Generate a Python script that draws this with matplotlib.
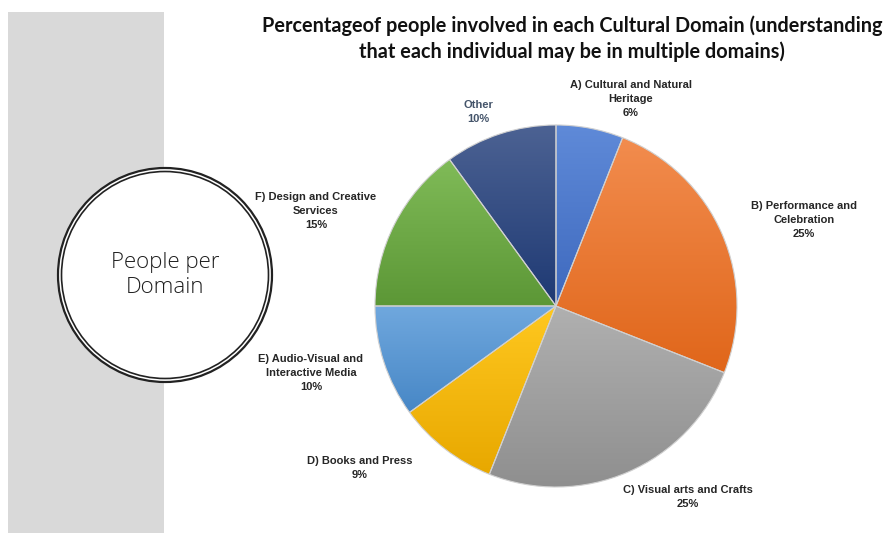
import matplotlib
matplotlib.use("Agg")
import matplotlib.pyplot as plt
import numpy as np
from matplotlib.patches import Rectangle, Circle
from matplotlib.colors import to_rgb

# ---- data ----
categories = ["A) Cultural and Natural\nHeritage", "B) Performance and\nCelebration",
              "C) Visual arts and Crafts", "D) Books and Press",
              "E) Audio-Visual and\nInteractive Media", "F) Design and Creative\nServices",
              "Other"]
values = [6, 25, 25, 9, 10, 15, 10]
pct_labels = ["6%", "25%", "25%", "9%", "10%", "15%", "10%"]
top_colors = ["#5F8AD8", "#F28C4E", "#B0B0B0", "#FFC820", "#70A8DE", "#80BB58", "#4C6293"]
bot_colors = ["#3E69BE", "#E0661A", "#8E8E8E", "#E8A800", "#4787C6", "#5C9736", "#1E3973"]
title = "Percentageof people involved in each Cultural Domain (understanding\nthat each individual may be in multiple domains)"

W, H = 885, 533
fig = plt.figure(figsize=(W / 100, H / 100), dpi=100)
ax = fig.add_axes([0, 0, 1, 1])
ax.set_xlim(0, W)
ax.set_ylim(0, H)
ax.axis("off")

def Y(y):
    return H - y

# grey band
ax.add_patch(Rectangle((8, 0), 156, Y(12), facecolor="#D9D9D9", edgecolor="none", zorder=1))
# double circle
cx, cy = 165, Y(275)
ax.add_patch(Circle((cx, cy), 107, facecolor="white", edgecolor="#222222", lw=1.6, zorder=2))
ax.add_patch(Circle((cx, cy), 103.5, facecolor="white", edgecolor="#222222", lw=1.2, zorder=2))
ax.text(cx, Y(275), "People per\nDomain", ha="center", va="center", fontsize=16,
        family="Open Sans", fontweight="light", color="#1E1E1E", linespacing=1.2, zorder=3)

# pie
pc = (556, Y(306))
R = 181
wedges, _ = ax.pie(values, startangle=90, counterclock=False, center=pc, radius=R,
                   wedgeprops=dict(edgecolor="#D0D0D0", linewidth=0.8, zorder=4))
for w, c1, c2 in zip(wedges, top_colors, bot_colors):
    verts = w.get_patch_transform().transform(w.get_path().vertices)
    x0, x1 = verts[:, 0].min(), verts[:, 0].max()
    y0, y1 = verts[:, 1].min(), verts[:, 1].max()
    t = np.linspace(0, 1, 256)[:, None]
    a, b = np.array(to_rgb(c1)), np.array(to_rgb(c2))
    grad = (a[None, :] * (1 - t) + b[None, :] * t)[:, None, :]
    grad = np.repeat(grad, 2, axis=1)
    im = ax.imshow(grad, extent=[x0, x1, y0, y1], origin="upper", aspect="auto",
                   interpolation="bilinear", zorder=3)
    im.set_clip_path(w)
    w.set_facecolor("none")
ax.set_xlim(0, W)
ax.set_ylim(0, H)
ax.set_aspect("auto")

# labels
label_pos = [(631, 99), (804, 220), (688, 497), (360, 468), (311, 373), (316, 211), (478, 112)]
for i, (cat, p, (lx, ly)) in enumerate(zip(categories, pct_labels, label_pos)):
    col = "#44546A" if cat == "Other" else "#262626"
    ax.text(lx, Y(ly), f"{cat}\n{p}", ha="center", va="center", fontsize=8,
            family="Liberation Sans", fontweight="bold", color=col, linespacing=1.5, zorder=6)

ax.text(572, Y(38.5), title, ha="center", va="center", fontsize=14.3, family="Lato",
        fontweight="bold", color="#111111", linespacing=1.35, zorder=6)

fig.savefig("out.png", dpi=100)
